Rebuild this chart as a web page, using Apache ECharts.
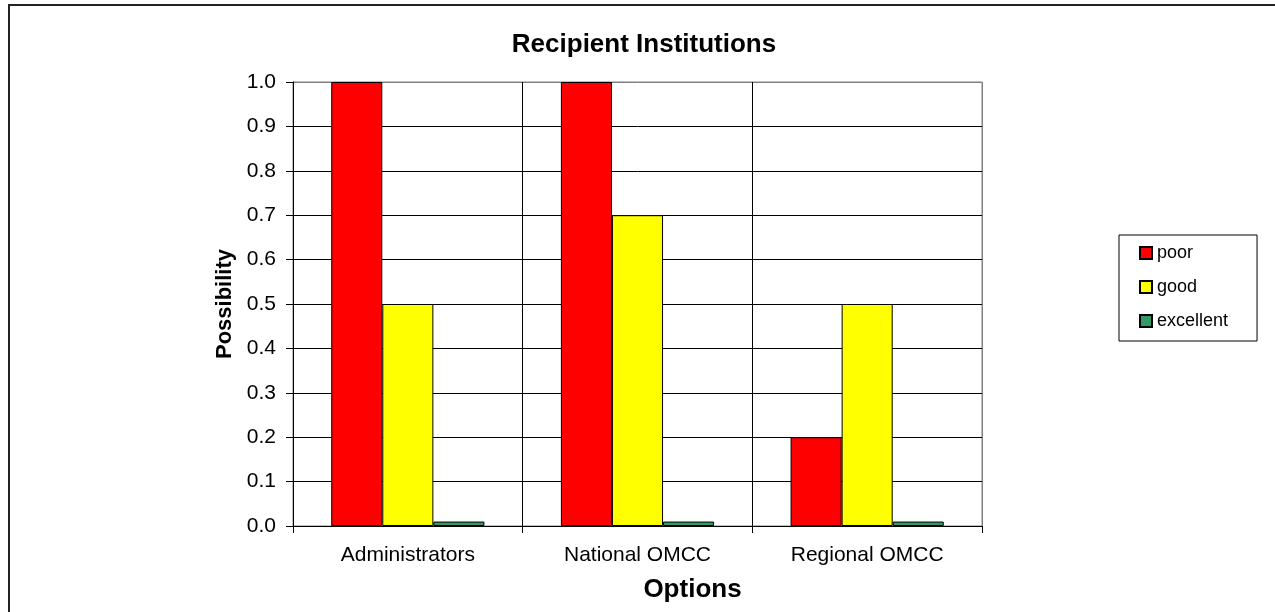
<!DOCTYPE html>
<html><head><meta charset="utf-8">
<script src="https://cdn.jsdelivr.net/npm/echarts@6/dist/echarts.min.js"></script>
<style>html,body{margin:0;padding:0;background:#fff}#c{width:1275px;height:612px}</style>
</head><body><div id="c"></div>
<script>
const categories = ['Administrators', 'National OMCC', 'Regional OMCC'];
const poor = [1.0, 1.0, 0.2];
const good = [0.5, 0.7, 0.5];
const excellent = [0.01, 0.01, 0.01];
const seriesNames = ['poor', 'good', 'excellent'];
const colors = ['#FF0000', '#FFFF00', '#339966'];

const chart = echarts.init(document.getElementById('c'), null, {renderer: 'canvas'});
const font = '"Liberation Sans", Arial, sans-serif';
const mk = (name, data, color) => ({
  name, type: 'bar', data, barGap: '0%', barCategoryGap: '33.3%',
  itemStyle: {color, borderColor: '#000', borderWidth: 1},
  emphasis: {disabled: true}
});
const ySplitColors = ['#000','#000','#000','#000','#000','#000','#000','#000','#000','#000','#808080'];
chart.setOption({
  animation: false,
  textStyle: {fontFamily: font},
  graphic: [{type: 'rect', shape: {x: 9, y: 5, width: 1290, height: 650},
    style: {fill: 'none', stroke: '#222', lineWidth: 2}, silent: true, z: -1}],
  title: {text: 'Recipient Institutions', left: 644, textAlign: 'center', top: 27,
    textStyle: {fontFamily: font, fontSize: 26, fontWeight: 'bold', color: '#000'},
    padding: [5, 9, 5, 0]},
  legend: {orient: 'vertical', left: 1119, top: 235,
    padding: [8, 29, 10, 20], itemGap: 14, itemWidth: 12, itemHeight: 12,
    borderColor: '#000', borderWidth: 1, icon: 'rect',
    textStyle: {fontFamily: font, fontSize: 18, lineHeight: 20, color: '#000'},
    data: seriesNames},
  grid: {left: 293, right: 293, top: 82, bottom: 86, show: true, borderColor: '#808080', borderWidth: 1},
  xAxis: {type: 'category', data: categories, boundaryGap: true,
    name: 'Options', nameLocation: 'middle', nameGap: 51,
    nameTextStyle: {fontFamily: font, fontSize: 26, fontWeight: 'bold', color: '#000', padding: [0, 0, 0, 110]},
    axisLine: {lineStyle: {color: '#000', width: 1}},
    axisTick: {show: true, length: 7, lineStyle: {color: '#000'}},
    axisLabel: {fontFamily: font, fontSize: 21, color: '#000', margin: 19},
    splitLine: {show: true, lineStyle: {color: ['#000', '#000', '#000', '#808080'], width: 1}}},
  yAxis: {type: 'value', min: 0, max: 1, interval: 0.1,
    name: 'Possibility', nameLocation: 'middle', nameGap: 57, nameRotate: 90,
    nameTextStyle: {fontFamily: font, fontSize: 22, fontWeight: 'bold', color: '#000'},
    axisLine: {show: true, lineStyle: {color: '#000', width: 1}},
    axisTick: {show: true, length: 7, lineStyle: {color: '#000'}},
    axisLabel: {fontFamily: font, fontSize: 21, color: '#000', margin: 17,
      formatter: v => v.toFixed(1)},
    splitLine: {show: true, lineStyle: {color: ySplitColors, width: 1}}},
  series: [mk(seriesNames[0], poor, colors[0]), mk(seriesNames[1], good, colors[1]), mk(seriesNames[2], excellent, colors[2])]
});
</script></body></html>
